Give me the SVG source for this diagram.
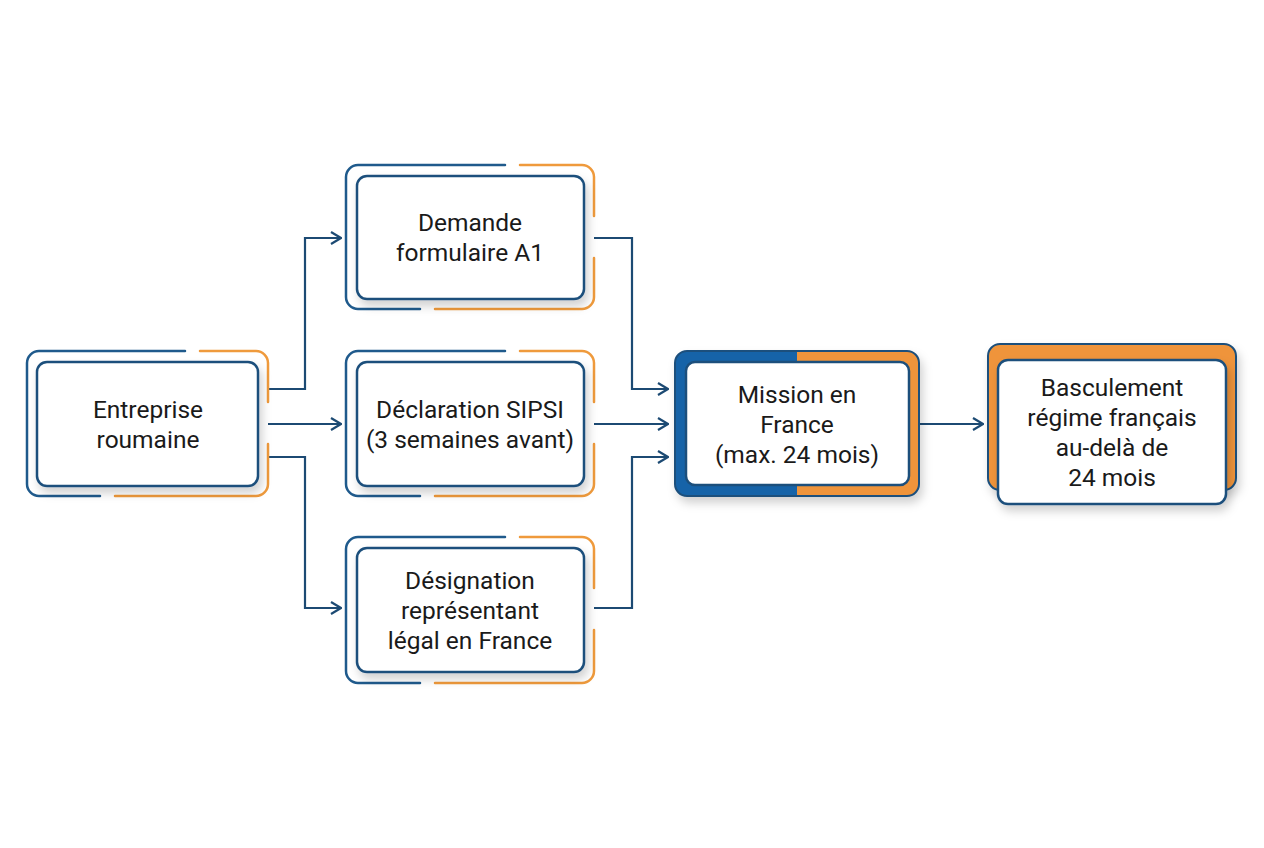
<svg xmlns="http://www.w3.org/2000/svg" width="1264" height="848" viewBox="0 0 1264 848">
<style>
.b{fill:none;stroke:#1f5a8c;stroke-width:2.5;stroke-linecap:round}
.o{fill:none;stroke:#ef9a3c;stroke-width:2.5;stroke-linecap:round}
.in{fill:#fff;stroke:#1c4f7c;stroke-width:2.5}
.t{font-family:Roboto,"Liberation Sans",sans-serif;font-size:24.5px;fill:#1a1a1a;text-anchor:middle}
.c{fill:none;stroke:#1c4a73;stroke-width:2.2}
</style>
<defs>
<marker id="a" viewBox="0 0 12 14" refX="11" refY="7" markerWidth="12" markerHeight="14" markerUnits="userSpaceOnUse" orient="auto"><path d="M1,1 L11,7 L1,13" fill="none" stroke="#1c4a73" stroke-width="2.2"/></marker>
<filter id="s" x="-20%" y="-20%" width="140%" height="150%"><feDropShadow dx="3" dy="6" stdDeviation="5" flood-color="#000" flood-opacity="0.18"/></filter>
</defs>
<rect width="1264" height="848" fill="#fff"/>
<g id="connectors">
<path class="c" d="M268,389 H305 V238 H341" marker-end="url(#a)"/>
<path class="c" d="M268,424 H341" marker-end="url(#a)"/>
<path class="c" d="M268,457 H305 V608 H341" marker-end="url(#a)"/>
<path class="c" d="M594,238 H632 V389 H668" marker-end="url(#a)"/>
<path class="c" d="M594,424 H668" marker-end="url(#a)"/>
<path class="c" d="M594,608 H632 V457 H668" marker-end="url(#a)"/>
<path class="c" d="M919,424 H983" marker-end="url(#a)"/>
</g>
<g id="n1">
<path class="b" d="M185,351 H39 a12,12 0 0 0 -12,12 V484 a12,12 0 0 0 12,12 H100"/>
<path class="o" d="M200,351 H256 a12,12 0 0 1 12,12 V402"/>
<path class="o" d="M268,444 V484 a12,12 0 0 1 -12,12 H115"/>
<rect class="in" x="37" y="362" width="221" height="124" rx="10" filter="url(#s)"/>
<text class="t" x="148" y="418">Entreprise</text><text class="t" x="148" y="448">roumaine</text>
</g>
<g id="n2">
<path class="b" d="M505,165 H358 a12,12 0 0 0 -12,12 V297 a12,12 0 0 0 12,12 H420"/>
<path class="o" d="M520,165 H582 a12,12 0 0 1 12,12 V216"/>
<path class="o" d="M594,258 V297 a12,12 0 0 1 -12,12 H435"/>
<rect class="in" x="357" y="176" width="227" height="123" rx="10" filter="url(#s)"/>
<text class="t" x="470" y="231">Demande</text><text class="t" x="470" y="261">formulaire A1</text>
</g>
<g id="n3">
<path class="b" d="M505,351 H358 a12,12 0 0 0 -12,12 V484 a12,12 0 0 0 12,12 H420"/>
<path class="o" d="M520,351 H582 a12,12 0 0 1 12,12 V402"/>
<path class="o" d="M594,444 V484 a12,12 0 0 1 -12,12 H435"/>
<rect class="in" x="357" y="362" width="227" height="124" rx="10" filter="url(#s)"/>
<text class="t" x="470" y="418">Déclaration SIPSI</text><text class="t" x="470" y="448">(3 semaines avant)</text>
</g>
<g id="n4">
<path class="b" d="M505,537 H358 a12,12 0 0 0 -12,12 V671 a12,12 0 0 0 12,12 H420"/>
<path class="o" d="M520,537 H582 a12,12 0 0 1 12,12 V588"/>
<path class="o" d="M594,630 V671 a12,12 0 0 1 -12,12 H435"/>
<rect class="in" x="357" y="548" width="227" height="124" rx="10" filter="url(#s)"/>
<text class="t" x="470" y="589">Désignation</text><text class="t" x="470" y="619">représentant</text><text class="t" x="470" y="649">légal en France</text>
</g>
<g id="n5">
<g filter="url(#s)">
<path d="M797,351 H687 a12,12 0 0 0 -12,12 V484 a12,12 0 0 0 12,12 H797 Z" fill="#1764a8"/>
<path d="M797,351 H907 a12,12 0 0 1 12,12 V484 a12,12 0 0 1 -12,12 H797 Z" fill="#ef943a"/>
<rect x="675" y="351" width="244" height="145" rx="12" fill="none" stroke="#1c4f7c" stroke-width="2"/>
</g>
<rect class="in" x="686" y="362" width="223" height="123" rx="9"/>
<text class="t" x="797" y="403">Mission en</text><text class="t" x="797" y="433">France</text><text class="t" x="797" y="463">(max. 24 mois)</text>
</g>
<g id="n6">
<rect x="988" y="344" width="248" height="146" rx="12" fill="#ef943a" stroke="#1c4f7c" stroke-width="2" filter="url(#s)"/>
<rect class="in" x="998" y="360" width="228" height="144" rx="10" filter="url(#s)"/>
<text class="t" x="1112" y="396">Basculement</text><text class="t" x="1112" y="426">régime français</text><text class="t" x="1112" y="456">au-delà de</text><text class="t" x="1112" y="486">24 mois</text>
</g>
</svg>
